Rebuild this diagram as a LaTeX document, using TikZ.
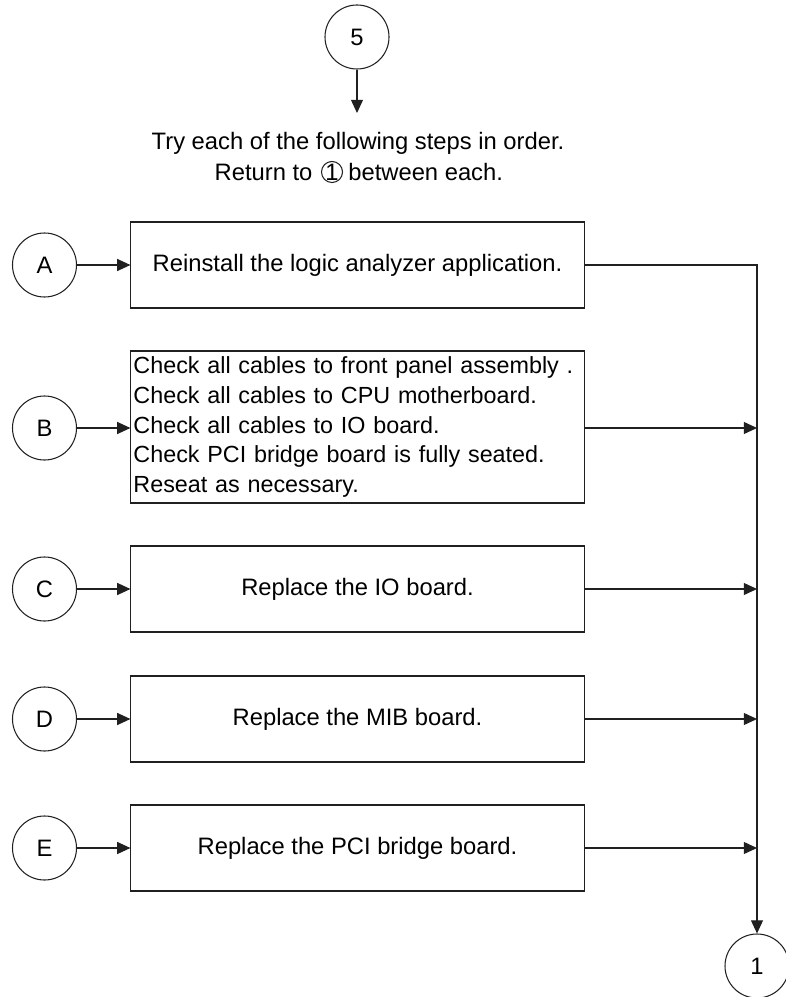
\documentclass[tikz,border=0pt]{standalone}
\usepackage{fontspec}
\setmainfont{Liberation Sans}
\usetikzlibrary{arrows.meta,positioning}
\definecolor{linegray}{HTML}{202020}
\newcommand{\flowfont}{\fontsize{16.9}{21.3}\selectfont}
\newcommand{\listfont}{\fontsize{16.6}{21.3}\selectfont}

\begin{document}
\begin{tikzpicture}[
    x=0.025cm, y=-0.025cm,
    line width=0.75pt, >={Triangle[length=3.3mm,width=3mm]},
    color=linegray,
    txt/.style={font=\flowfont, text=black, inner sep=0pt},
    tag/.style={circle, draw, minimum size=1.6cm, inner sep=0pt, font=\flowfont, text=black},
    small tag/.style={circle, draw, minimum size=0.5cm, inner sep=0pt, font=\flowfont, text=black},
    stepbox/.style={rectangle, draw, minimum width=11.325cm, minimum height=2.15cm, font=\flowfont, text=black}]
  % page of 785 x 997 px, y runs downwards
  \path[use as bounding box] (0,0) rectangle (785,997);

  % ================= entry from 5 =================
  \node[tag] (c5) at (357,37) {5};
  \coordinate (c5end) at (357,113);
  \draw[->] (c5) -- (c5end);
  \node[txt] (try) at (358,143) {Try each of the following steps in order.};
  \node[small tag] (ret1) at (332,172) {1};
  \node[txt, left=2mm of ret1] (retto) {Return to};
  \node[txt, right=1.2mm of ret1] (betw) {between each.};

  % ================= steps A to E =================
  \foreach \name/\y in {A/265, B/428, C/589, D/719, E/848}
    \node[tag] (c\name) at (44.5,\y) {\name};

  \node[stepbox] (bA) at (357.5,265) {Reinstall the logic analyzer application.};
  \node[stepbox, minimum height=3.8cm, align=left, text width=11.2cm, inner xsep=0.0625cm, font=\listfont] (bB) at (357.5,427)
    {Check all cables to front panel assembly .\\
     Check all cables to CPU motherboard.\\
     Check all cables to IO board.\\
     Check PCI bridge board is fully seated.\\
     Reseat as necessary.};
  \foreach \name/\y/\task in {C/589/Replace the IO board., D/719/Replace the MIB board., E/848/Replace the PCI bridge board.}
    \node[stepbox] (b\name) at (357.5,\y) {\task};

  \foreach \name in {A,B,C,D,E}
    \draw[->] (c\name) -- (c\name -| b\name.west);

  % ================= return to 1 =================
  \node[tag] (c1) at (757,966) {1};
  \draw[->] (bA) -- (bA -| c1) -- (c1);
  \foreach \name in {B,C,D,E}
    \draw[->] (b\name.east |- c\name) -- (c\name -| c1);
\end{tikzpicture}
\end{document}
